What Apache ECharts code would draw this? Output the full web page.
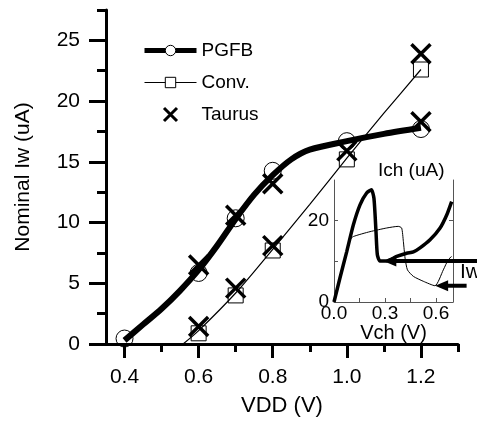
<!DOCTYPE html>
<html>
<head>
<meta charset="utf-8">
<script src="https://cdn.jsdelivr.net/npm/echarts@6/dist/echarts.min.js"></script>
<style>
  html, body { margin: 0; padding: 0; background: #fff; }
  #chart { width: 477px; height: 424px; }
</style>
</head>
<body>
<div id="chart"></div>
<script>
// ---- Main plot: nominal write current vs. supply voltage ----
const xMajorTicks = [0.4, 0.6, 0.8, 1.0, 1.2];
const xMinorTicks = [0.5, 0.7, 0.9, 1.1, 1.3];
const yMajorTicks = [0, 5, 10, 15, 20, 25];
const yMinorTicks = [2.5, 7.5, 12.5, 17.5, 22.5, 27.5];

// PGFB measured points and fitted curve
const pgfbV = [0.4, 0.6, 0.7, 0.8, 1.0, 1.2];
const pgfbI = [0.45, 5.85, 10.35, 14.26, 16.7, 17.7];
const pgfbFitV = [0.4, 0.45, 0.5, 0.55, 0.6, 0.65, 0.7, 0.75, 0.8, 0.85, 0.9, 1.0, 1.1, 1.2];
const pgfbFitI = [0.3, 1.6, 2.9, 4.4, 6.1, 8.1, 10.3, 12.3, 13.9, 15.2, 16.0, 16.7, 17.3, 17.8];

// Conventional scheme points and fitted curve
const convV = [0.6, 0.7, 0.8, 1.0, 1.2];
const convI = [0.88, 4.0, 7.7, 15.2, 22.6];
const convFitV = [0.558, 0.6, 0.7, 0.8, 0.9, 1.0, 1.1, 1.2];
const convFitI = [0, 1.1, 4.2, 7.8, 11.5, 15.3, 19.0, 22.6];

// Taurus simulation points
const taurusV = [0.6, 0.7, 0.8, 1.0, 1.2, 0.6, 0.7, 0.8, 1.2];
const taurusI = [6.5, 10.6, 13.2, 15.9, 18.3, 1.45, 4.6, 8.1, 23.9];

// ---- Inset: channel current vs. channel voltage ----
const insetXTicks = [0.15, 0.3, 0.45, 0.6];
const insetXLabels = [0, 0.3, 0.6];
const insetYTicks = [10, 20];
const insetYLabels = [0, 20];

const insetPgfbV = [0, 0.035, 0.075, 0.114, 0.153, 0.192, 0.22, 0.235, 0.247, 0.255, 0.27, 0.31, 0.369, 0.427, 0.467, 0.506, 0.565, 0.624, 0.663, 0.692];
const insetPgfbI = [0, 5.9, 12.4, 19, 23.9, 26.8, 27.6, 25.5, 17.3, 11.6, 10.1, 10.1, 11.2, 12.0, 12.3, 13.3, 15.3, 18.2, 21.4, 24.7];
const insetConvV = [0, 0.05, 0.094, 0.114, 0.212, 0.31, 0.378, 0.398, 0.408, 0.418, 0.432, 0.467, 0.525, 0.594, 0.643, 0.672, 0.692];
const insetConvI = [0, 8, 15.3, 16.1, 17.3, 18.2, 18.6, 18.2, 14.9, 10.8, 7.9, 6.3, 5.1, 4.0, 7.9, 10.4, 11.2];

// Iw arrows: tail and tip positions (Vch, Ich)
const arrowTailV = [0.85, 0.78];
const arrowTipV = [0.29, 0.595];
const arrowI = [10.1, 4.0];

const zip = (a, b) => a.map((v, i) => [v, b[i]]);
const FONT = "'Liberation Sans', Arial, Helvetica, sans-serif";
const crossPath = 'path://M0,0L10,10M10,0L0,10';

const chart = echarts.init(document.getElementById('chart'), null, { renderer: 'canvas' });

const option = {
  animation: false,
  backgroundColor: '#fff',
  textStyle: { fontFamily: FONT, color: '#000' },
  title: [
    { text: 'Ich (uA)', left: 378, top: 161, padding: 0,
      textStyle: { fontFamily: FONT, fontSize: 19, fontWeight: 'normal', color: '#000' } },
    { text: 'Iw', left: 460, top: 262, padding: 0,
      textStyle: { fontFamily: FONT, fontSize: 21, fontWeight: 'normal', color: '#000' } }
  ],
  legend: {
    data: [
      { name: 'PGFB', lineStyle: { width: 5 }, itemStyle: { borderWidth: 1 } },
      { name: 'Conv.', lineStyle: { width: 1 }, itemStyle: { borderWidth: 1 } },
      { name: 'Taurus', itemStyle: { borderWidth: 3 } }
    ],
    orient: 'vertical',
    left: 142, top: 41,
    itemWidth: 52, itemHeight: 13, itemGap: 13,
    padding: 0,
    selectedMode: false,
    textStyle: { fontFamily: FONT, fontSize: 19, color: '#000' }
  },
  grid: [
    { left: 106, right: 19, top: 10, bottom: 80 },
    { left: 334, right: 24, top: 180, bottom: 122 }
  ],
  xAxis: [
    {
      gridIndex: 0, type: 'value', min: 0.35, max: 1.3,
      name: 'VDD (V)', nameLocation: 'middle', nameGap: 51,
      nameTextStyle: { fontFamily: FONT, fontSize: 22, color: '#000' },
      axisLine: { lineStyle: { color: '#000', width: 3 } },
      axisTick: { customValues: xMajorTicks, length: 14, lineStyle: { color: '#000', width: 3 } },
      axisLabel: { customValues: xMajorTicks, margin: 23, fontSize: 21, color: '#000', fontFamily: FONT,
        formatter: v => v.toFixed(1) },
      splitLine: { show: false }
    },
    {
      gridIndex: 0, type: 'value', min: 0.35, max: 1.3, position: 'bottom', offset: 0,
      axisLine: { show: false },
      axisTick: { customValues: xMinorTicks, length: 8, lineStyle: { color: '#000', width: 3 } },
      axisLabel: { show: false },
      splitLine: { show: false }
    },
    {
      gridIndex: 1, type: 'value', min: 0, max: 0.7,
      name: 'Vch (V)', nameLocation: 'middle', nameGap: 19,
      nameTextStyle: { fontFamily: FONT, fontSize: 20, color: '#000' },
      axisLine: { lineStyle: { color: '#555', width: 1 } },
      axisTick: { inside: true, customValues: insetXTicks, length: 4, lineStyle: { color: '#555', width: 1 } },
      axisLabel: { customValues: insetXLabels, margin: 2, fontSize: 19, color: '#000', fontFamily: FONT,
        formatter: v => v.toFixed(1) },
      splitLine: { show: false }
    }
  ],
  yAxis: [
    {
      gridIndex: 0, type: 'value', min: 0, max: 27.5,
      name: 'Nominal Iw (uA)', nameLocation: 'middle', nameGap: 72,
      nameTextStyle: { fontFamily: FONT, fontSize: 21, color: '#000' },
      axisLine: { lineStyle: { color: '#000', width: 3 } },
      axisTick: { customValues: yMajorTicks, length: 17, lineStyle: { color: '#000', width: 3 } },
      axisLabel: { customValues: yMajorTicks, margin: 26, fontSize: 21, color: '#000', fontFamily: FONT },
      splitLine: { show: false }
    },
    {
      gridIndex: 0, type: 'value', min: 0, max: 27.5, position: 'left', offset: 0,
      axisLine: { show: false },
      axisTick: { customValues: yMinorTicks, length: 9, lineStyle: { color: '#000', width: 3 } },
      axisLabel: { show: false },
      splitLine: { show: false }
    },
    {
      gridIndex: 1, type: 'value', min: 0, max: 30, position: 'left',
      axisLine: { lineStyle: { color: '#555', width: 1 } },
      axisTick: { inside: true, customValues: insetYTicks, length: 4, lineStyle: { color: '#555', width: 1 } },
      axisLabel: { customValues: insetYLabels, margin: 5, fontSize: 19, color: '#000', fontFamily: FONT },
      splitLine: { show: false }
    },
    {
      gridIndex: 1, type: 'value', min: 0, max: 30, position: 'right',
      axisLine: { lineStyle: { color: '#555', width: 1 } },
      axisTick: { inside: true, customValues: insetYTicks, length: 4, lineStyle: { color: '#555', width: 1 } },
      axisLabel: { show: false },
      splitLine: { show: false }
    }
  ],
  series: [
    // fitted curves (listed first so the legend takes its icons from them)
    {
      name: 'PGFB', type: 'line', xAxisIndex: 0, yAxisIndex: 0, z: 3,
      data: zip(pgfbFitV, pgfbFitI), smooth: 0.3,
      symbol: 'circle', symbolSize: 11, showSymbol: false,
      lineStyle: { color: '#000', width: 6 },
      itemStyle: { color: '#fff', borderColor: '#000', borderWidth: 1 }
    },
    {
      name: 'Conv.', type: 'line', xAxisIndex: 0, yAxisIndex: 0, z: 3,
      data: zip(convFitV, convFitI), smooth: 0.3,
      symbol: 'rect', symbolSize: 10, showSymbol: false,
      lineStyle: { color: '#000', width: 1.2 },
      itemStyle: { color: '#fff', borderColor: '#000', borderWidth: 1 }
    },
    {
      name: 'Taurus', type: 'scatter', xAxisIndex: 0, yAxisIndex: 0, z: 4,
      data: zip(taurusV, taurusI), symbol: crossPath, symbolSize: 19,
      itemStyle: { color: 'none', borderColor: '#000', borderWidth: 3.5, opacity: 1 }
    },
    // hollow markers at the measured points, beneath the curves
    {
      name: 'PGFB', type: 'scatter', xAxisIndex: 0, yAxisIndex: 0, z: 2,
      data: zip(pgfbV, pgfbI), symbol: 'circle', symbolSize: 17,
      itemStyle: { color: 'rgba(0,0,0,0)', borderColor: '#000', borderWidth: 1, opacity: 1 }
    },
    {
      name: 'Conv.', type: 'scatter', xAxisIndex: 0, yAxisIndex: 0, z: 2,
      data: zip(convV, convI), symbol: 'rect', symbolSize: 15,
      itemStyle: { color: 'rgba(0,0,0,0)', borderColor: '#000', borderWidth: 1, opacity: 1 }
    },
    // inset curves
    {
      name: 'inset-pgfb', type: 'line', xAxisIndex: 2, yAxisIndex: 2,
      data: zip(insetPgfbV, insetPgfbI), smooth: 0.2, showSymbol: false, symbol: 'none',
      lineStyle: { color: '#000', width: 3.5 }
    },
    {
      name: 'inset-conv', type: 'line', xAxisIndex: 2, yAxisIndex: 2,
      data: zip(insetConvV, insetConvI), smooth: 0.2, showSymbol: false, symbol: 'none',
      lineStyle: { color: '#000', width: 1 }
    }
  ]
};

chart.setOption(option);

// Iw arrows: placed through the inset's own axes, running past its right edge
const HEAD_LEN = 13, HEAD_HALF = 5.5;
const arrowGraphics = [];
arrowTipV.forEach((tipV, i) => {
  const tip = chart.convertToPixel({ gridIndex: 1 }, [tipV, arrowI[i]]);
  const tail = chart.convertToPixel({ gridIndex: 1 }, [arrowTailV[i], arrowI[i]]);
  arrowGraphics.push({
    type: 'line', silent: true, z: 10,
    shape: { x1: tail[0], y1: tail[1], x2: tip[0] + HEAD_LEN - 2, y2: tip[1] },
    style: { stroke: '#000', lineWidth: 4 }
  });
  arrowGraphics.push({
    type: 'polygon', silent: true, z: 10,
    shape: { points: [[tip[0], tip[1]], [tip[0] + HEAD_LEN, tip[1] - HEAD_HALF], [tip[0] + HEAD_LEN, tip[1] + HEAD_HALF]] },
    style: { fill: '#000' }
  });
});
chart.setOption({ graphic: arrowGraphics });
</script>
</body>
</html>
